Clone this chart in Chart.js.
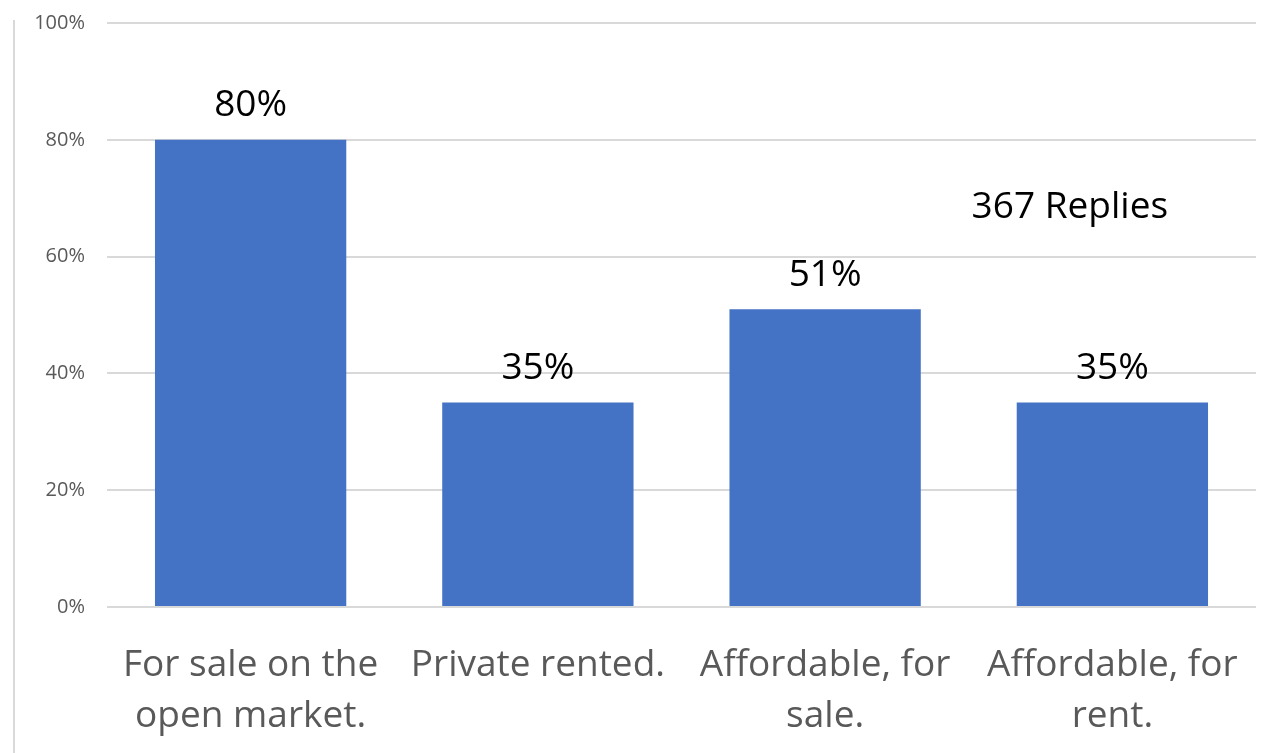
<!DOCTYPE html>
<html><head><meta charset="utf-8">
<script src="https://cdn.jsdelivr.net/npm/chart.js@4"></script>
<style>html,body{margin:0;padding:0;background:#fff;}#wrap{width:1281px;height:753px;position:relative;}</style>
</head><body><div id="wrap"><canvas id="c" width="1281" height="753"></canvas></div>
<script>
const categories = [["For sale on the","open market."],["Private rented."],["Affordable, for","sale."],["Affordable, for","rent."]];
const values = [80, 35, 51, 35];
const valueLabels = ["80%","35%","51%","35%"];
const yTicks = [0,20,40,60,80,100];
const noteText = "367 Replies";
const FONT = "'Open Sans', Lato, sans-serif";

const extras = {
  id:'extras',
  beforeDraw(chart){
    const ctx = chart.ctx;
    ctx.save();
    ctx.fillStyle='#fff';ctx.fillRect(0,0,chart.width,chart.height);
    ctx.strokeStyle='#d9d9d9';ctx.lineWidth=2;
    ctx.beginPath();ctx.moveTo(14,20);ctx.lineTo(14,753);ctx.stroke();
    ctx.restore();
  },
  afterDatasetsDraw(chart){
    const ctx = chart.ctx;
    const meta = chart.getDatasetMeta(0);
    ctx.save();
    ctx.fillStyle='#000';
    ctx.font = "37px " + FONT;
    ctx.textAlign='center';ctx.textBaseline='middle';
    meta.data.forEach((bar,i)=>{
      ctx.fillText(valueLabels[i], bar.x, bar.y-34);
    });
    const ys = chart.scales.y, xs = chart.scales.x;
    ctx.textAlign='left';
    ctx.fillText(noteText, xs.getPixelForValue(2.51), ys.getPixelForValue(68.4));
    ctx.restore();
  }
};

new Chart(document.getElementById('c'), {
  type:'bar',
  data:{labels:categories, datasets:[{data:values, backgroundColor:'#4472C4', borderWidth:0, barPercentage:0.666, categoryPercentage:1}]},
  options:{
    responsive:false, animation:false, devicePixelRatio:1,
    layout:{padding:{left:0,right:25,top:23,bottom:0}},
    plugins:{legend:{display:false},tooltip:{enabled:false}},
    scales:{
      y:{min:0,max:100,
        afterFit(s){s.width=107;s.paddingTop=0;s.paddingBottom=0;},
        afterBuildTicks(s){s.ticks=yTicks.map(v=>({value:v}));},
        border:{display:false},
        grid:{color:'#d9d9d9',lineWidth:2,drawTicks:false},
        ticks:{padding:22,color:'#595959',font:{family:FONT,size:20},callback:v=>v+'%'}
      },
      x:{
        afterFit(s){s.height=146;s.paddingLeft=0;s.paddingRight=0;},
        border:{display:false},
        grid:{display:false,drawTicks:false},
        ticks:{padding:33,color:'#595959',maxRotation:0,autoSkip:false,font:{family:FONT,size:37,lineHeight:1.38}}
      }
    }
  },
  plugins:[extras]
});
</script></body></html>
